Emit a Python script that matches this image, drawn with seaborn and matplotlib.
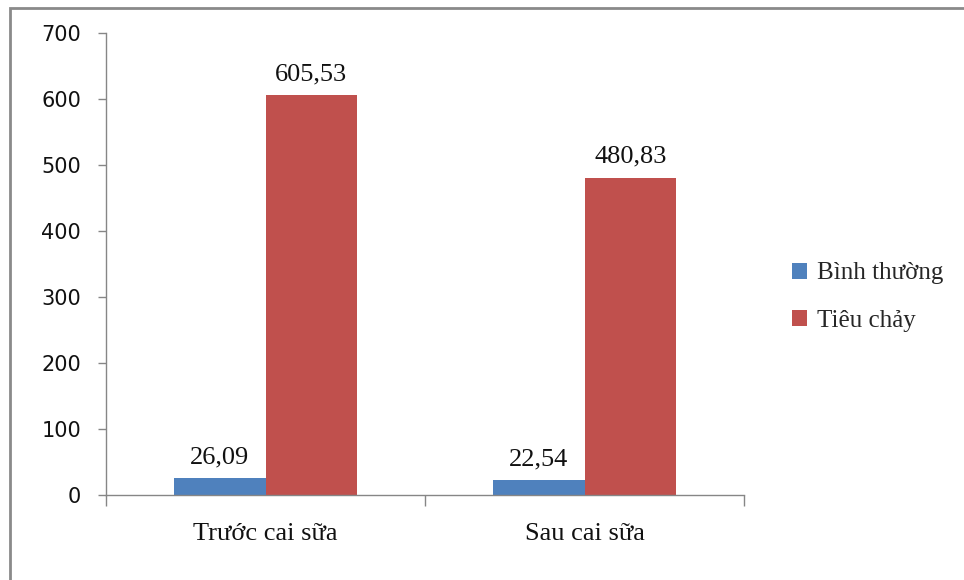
import matplotlib
matplotlib.use("Agg")
import matplotlib.pyplot as plt
from matplotlib.patches import Rectangle
from matplotlib.ticker import FixedLocator
import seaborn as sns
import pandas as pd

# Data
categories = ["Trước cai sữa", "Sau cai sữa"]
series_names = ["Bình thường", "Tiêu chảy"]
binh_thuong = [26.09, 22.54]
tieu_chay = [605.53, 480.83]
y_ticks = [0, 100, 200, 300, 400, 500, 600, 700]

colors = ["#4F81BD", "#C0504D"]

df = pd.DataFrame({
    "category": categories * 2,
    "series": [series_names[0]] * 2 + [series_names[1]] * 2,
    "value": binh_thuong + tieu_chay,
})

sns.set_theme(style="white")
plt.rcParams["font.family"] = ["DejaVu Sans"]

W, H = 964, 580
fig = plt.figure(figsize=(W / 100, H / 100), dpi=100)
ax = fig.add_axes([106 / W, 1 - 495 / H, (744 - 106) / W, (495 - 33) / H])

sns.barplot(data=df, x="category", y="value", hue="series", order=categories,
            hue_order=series_names, palette=colors, width=0.574, saturation=1,
            edgecolor="none", linewidth=0, ax=ax, legend=False)

ax.set_xlim(-0.5, 1.5)
ax.set_ylim(0, 700)
ax.set_xlabel("")
ax.set_ylabel("")

axis_gray = "#868686"
for side in ("top", "right"):
    ax.spines[side].set_visible(False)
for side in ("left", "bottom"):
    ax.spines[side].set_color(axis_gray)
    ax.spines[side].set_linewidth(1.0)

ax.set_yticks(y_ticks)
ax.set_yticklabels([str(t) for t in y_ticks], fontsize=15, color="#111111")
ax.tick_params(axis="y", which="major", direction="out", length=6, width=1,
               color=axis_gray, pad=12, left=True)

# Category labels at centres, boundary tick marks between categories
ax.set_xticks([0, 1])
ax.set_xticklabels(categories, fontsize=19, family=["Liberation Serif"], color="#111111")
ax.tick_params(axis="x", which="major", length=0, pad=20)
ax.xaxis.set_minor_locator(FixedLocator([-0.5, 0.5, 1.5]))
ax.tick_params(axis="x", which="minor", direction="out", length=8, width=1,
               color=axis_gray, bottom=True)

# Value labels above bars
for container in ax.containers:
    for bar in container:
        h = bar.get_height()
        ax.annotate(f"{h:.2f}".replace(".", ","),
                    xy=(bar.get_x() + bar.get_width() / 2, h),
                    xytext=(0, 7), textcoords="offset points",
                    ha="center", va="bottom", fontsize=19,
                    family=["Liberation Serif"], color="#111111")

# Legend
handles = [Rectangle((0, 0), 1, 1, facecolor=c, edgecolor="none") for c in colors]
fig.legend(handles, series_names, loc="center left",
           bbox_to_anchor=(782 / W, 1 - 297 / H), frameon=False,
           prop={"family": "Liberation Serif", "size": 18},
           handlelength=0.6, handleheight=0.6, handletextpad=0.4,
           labelspacing=1.0, borderaxespad=0)

# Outer frame (top and left edges visible)
frame = Rectangle((10 / W, -0.1), 1.2, 1 - 8 / H + 0.1, transform=fig.transFigure,
                  fill=False, edgecolor="#8a8a8a", linewidth=2, zorder=10)
fig.add_artist(frame)

fig.savefig("out.png", dpi=100, facecolor="white")
